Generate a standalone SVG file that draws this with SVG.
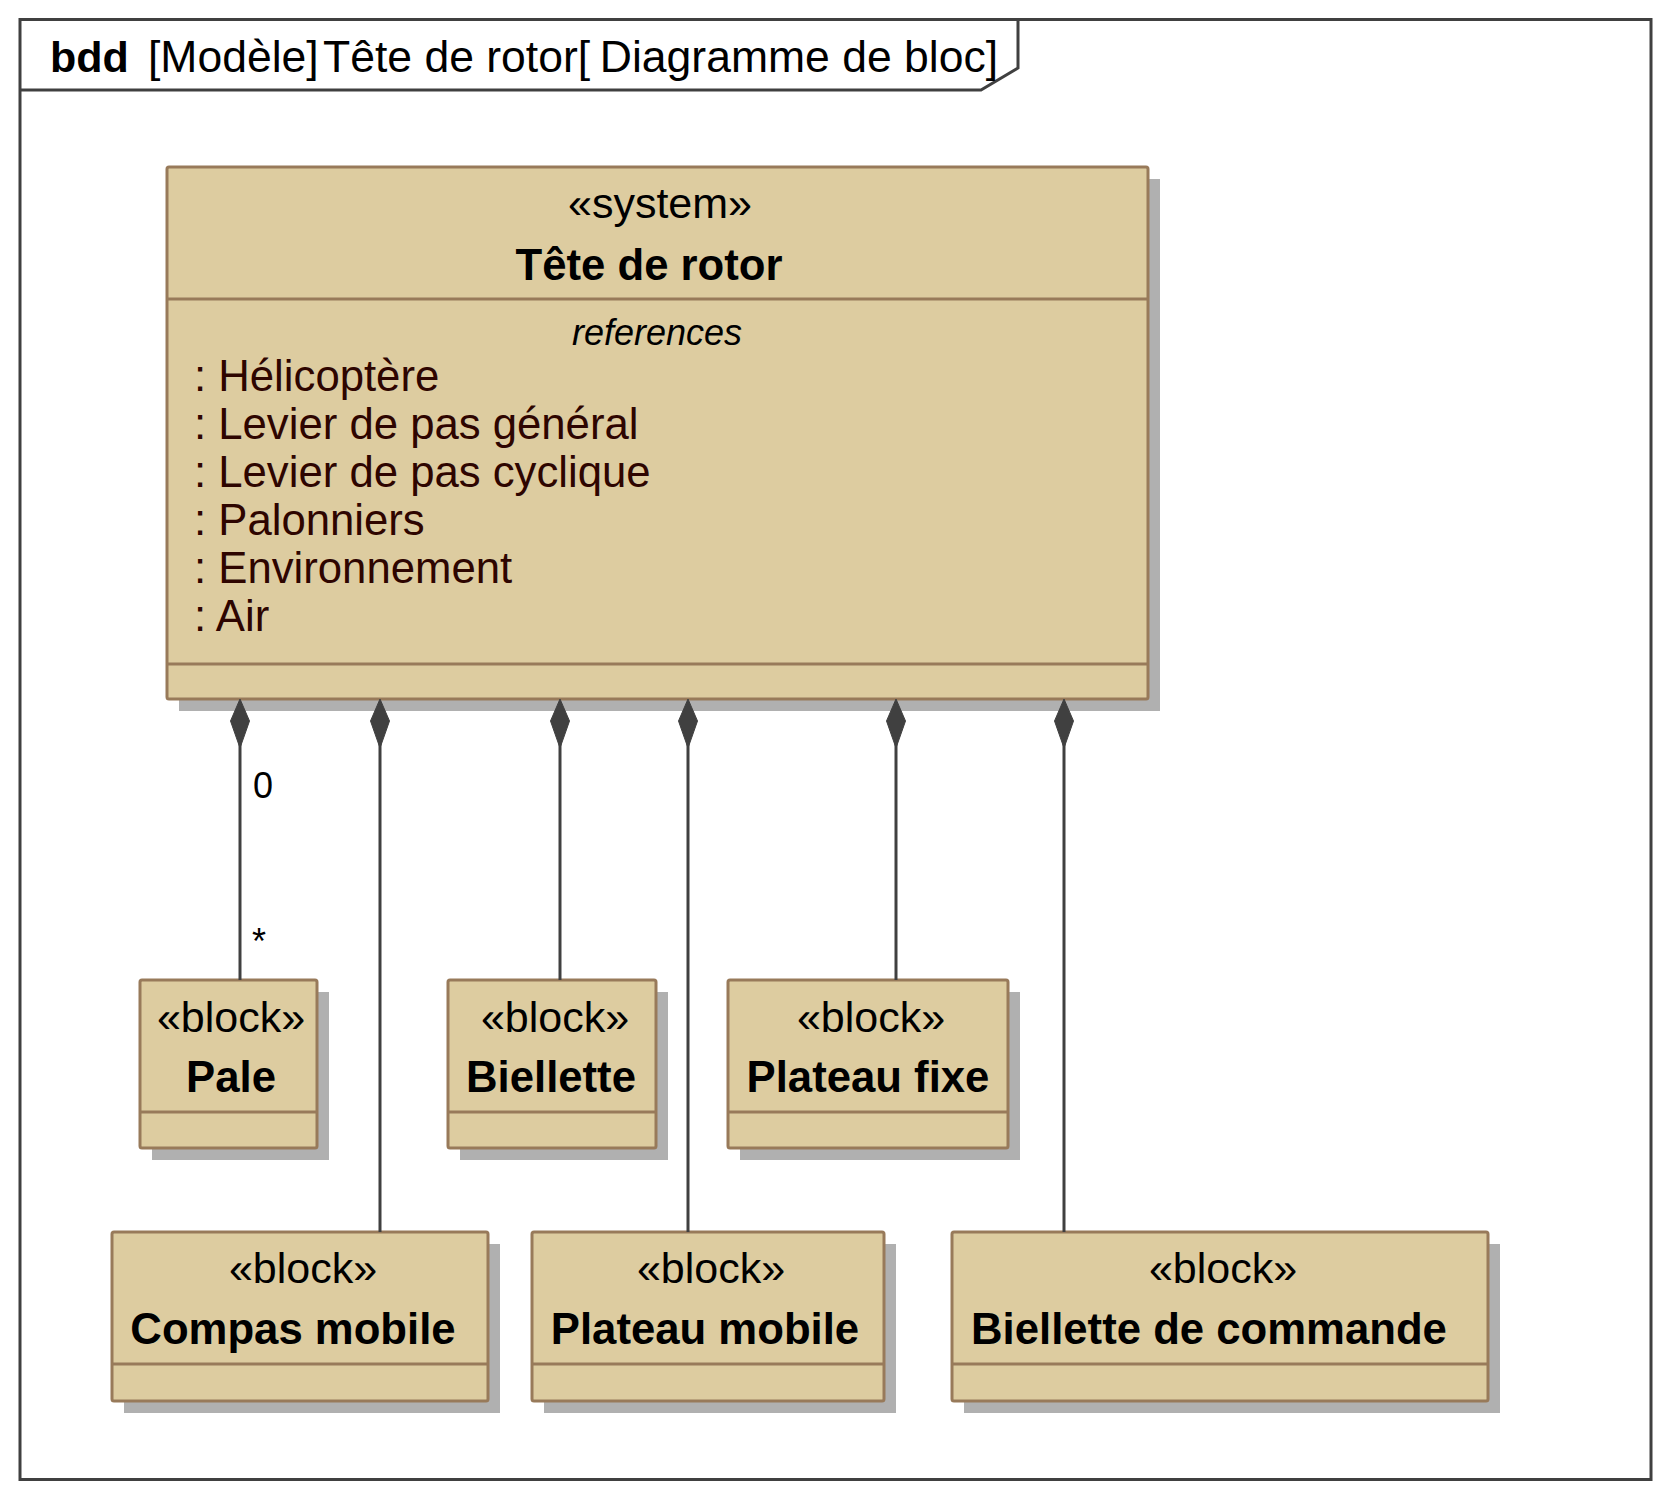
<svg xmlns="http://www.w3.org/2000/svg" width="1660" height="1488" viewBox="0 0 1660 1488">
<style>
text { font-family: "Liberation Sans", Arial, sans-serif; font-size: 43px; fill: #000; }
.hdr { font-size: 44.5px; }
.bold { font-weight: bold; }
.st { text-anchor: middle; }
.nm { text-anchor: middle; font-weight: bold; font-size: 43.7px; }
.attr { fill: #2e0500; font-size: 43.7px; }
.ital { font-style: italic; font-size: 36px; text-anchor: middle; }
.mult { font-size: 36px; }
.shadow { fill: #b0b0b0; stroke: none; }
.box { fill: #ddcca0; stroke: #987a5a; stroke-width: 3; }
.div { stroke: #987a5a; stroke-width: 3; }
.frame { fill: none; stroke: #404040; stroke-width: 3; }
.conn line { stroke: #404040; stroke-width: 3; }
.conn polygon { fill: #404040; stroke: #404040; stroke-width: 1; }
</style>
<rect width="1660" height="1488" fill="#ffffff"/>
<g id="frame">
  <rect class="frame" x="20" y="19.5" width="1631" height="1460"/>
  <polyline class="frame" points="20,90 981,90 1018,68 1018,19.5"/>
  <text class="bold" x="50" y="72">bdd</text>
  <text class="hdr" x="148" y="72">[Modèle]</text>
  <text class="hdr" x="323" y="72">Tête de rotor[</text>
  <text class="hdr" x="998" y="72" text-anchor="end">Diagramme de bloc]</text>
</g>
<g id="tete-de-rotor">
  <rect class="shadow" x="179" y="179" width="981" height="532"/>
  <rect class="box" x="167" y="167" width="981" height="532" rx="2"/>
  <line class="div" x1="167" y1="299" x2="1148" y2="299"/>
  <line class="div" x1="167" y1="664" x2="1148" y2="664"/>
  <text class="st" x="660" y="218">«system»</text>
  <text class="nm" x="649" y="280">Tête de rotor</text>
  <text class="ital" x="657" y="345">references</text>
  <text class="attr" x="194" y="391">: Hélicoptère</text>
  <text class="attr" x="194" y="439">: Levier de pas général</text>
  <text class="attr" x="194" y="487">: Levier de pas cyclique</text>
  <text class="attr" x="194" y="535">: Palonniers</text>
  <text class="attr" x="194" y="583">: Environnement</text>
  <text class="attr" x="194" y="631">: Air</text>
</g>
<g id="pale">
  <rect class="shadow" x="152" y="992" width="177" height="168"/>
  <rect class="box" x="140" y="980" width="177" height="168" rx="2"/>
  <line class="div" x1="140" y1="1112" x2="317" y2="1112"/>
  <text class="st" x="231" y="1032">«block»</text>
  <text class="nm" x="231" y="1092">Pale</text>
</g>
<g id="biellette">
  <rect class="shadow" x="460" y="992" width="208" height="168"/>
  <rect class="box" x="448" y="980" width="208" height="168" rx="2"/>
  <line class="div" x1="448" y1="1112" x2="656" y2="1112"/>
  <text class="st" x="555" y="1032">«block»</text>
  <text class="nm" x="551" y="1092">Biellette</text>
</g>
<g id="plateau-fixe">
  <rect class="shadow" x="740" y="992" width="280" height="168"/>
  <rect class="box" x="728" y="980" width="280" height="168" rx="2"/>
  <line class="div" x1="728" y1="1112" x2="1008" y2="1112"/>
  <text class="st" x="871" y="1032">«block»</text>
  <text class="nm" x="868" y="1092">Plateau fixe</text>
</g>
<g id="compas-mobile">
  <rect class="shadow" x="124" y="1244" width="376" height="169"/>
  <rect class="box" x="112" y="1232" width="376" height="169" rx="2"/>
  <line class="div" x1="112" y1="1364" x2="488" y2="1364"/>
  <text class="st" x="303" y="1283">«block»</text>
  <text class="nm" x="293" y="1344">Compas mobile</text>
</g>
<g id="plateau-mobile">
  <rect class="shadow" x="544" y="1244" width="352" height="169"/>
  <rect class="box" x="532" y="1232" width="352" height="169" rx="2"/>
  <line class="div" x1="532" y1="1364" x2="884" y2="1364"/>
  <text class="st" x="711" y="1283">«block»</text>
  <text class="nm" x="705" y="1344">Plateau mobile</text>
</g>
<g id="biellette-de-commande">
  <rect class="shadow" x="964" y="1244" width="536" height="169"/>
  <rect class="box" x="952" y="1232" width="536" height="169" rx="2"/>
  <line class="div" x1="952" y1="1364" x2="1488" y2="1364"/>
  <text class="st" x="1223" y="1283">«block»</text>
  <text class="nm" x="1209" y="1344">Biellette de commande</text>
</g>
<g id="connectors" class="conn">
  <line x1="240" y1="740" x2="240" y2="980"/>
  <polygon points="240,699 249.5,721 240,748 230.5,721"/>
  <line x1="380" y1="740" x2="380" y2="1232"/>
  <polygon points="380,699 389.5,721 380,748 370.5,721"/>
  <line x1="560" y1="740" x2="560" y2="980"/>
  <polygon points="560,699 569.5,721 560,748 550.5,721"/>
  <line x1="688" y1="740" x2="688" y2="1232"/>
  <polygon points="688,699 697.5,721 688,748 678.5,721"/>
  <line x1="896" y1="740" x2="896" y2="980"/>
  <polygon points="896,699 905.5,721 896,748 886.5,721"/>
  <line x1="1064" y1="740" x2="1064" y2="1232"/>
  <polygon points="1064,699 1073.5,721 1064,748 1054.5,721"/>
  <text class="mult" x="253" y="798">0</text>
  <text class="mult" x="252" y="954">*</text>
</g>
</svg>
